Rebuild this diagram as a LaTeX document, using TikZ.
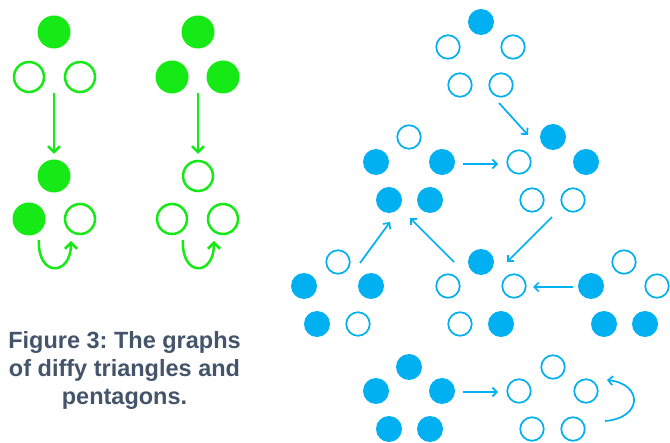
\documentclass[tikz,border=0pt]{standalone}
\usepackage{fontspec}
\setmainfont{Liberation Sans}
\usetikzlibrary{arrows.meta}
\definecolor{gr}{RGB}{22,234,22}
\definecolor{bl}{RGB}{0,176,240}
\definecolor{txt}{RGB}{68,84,106}
\frenchspacing
\begin{document}
\begin{tikzpicture}[x=1pt,y=-1pt,
  gf/.style={circle,fill=gr,inner sep=0pt,minimum size=33pt},
  go/.style={circle,draw=gr,line width=2.5pt,inner sep=0pt,minimum size=30pt},
  bf/.style={circle,fill=bl,inner sep=0pt,minimum size=26pt},
  bo/.style={circle,draw=bl,line width=1.7pt,inner sep=0pt,minimum size=23.5pt},
  garr/.style={draw=gr,line width=2.5pt,-{Straight Barb[length=6pt,width=12pt]}},
  barr/.style={draw=bl,line width=1.7pt,-{Straight Barb[length=4.5pt,width=9pt]}}]
\useasboundingbox (0,0) rectangle (670,443);
% ---- green triangles
\node[gf] (t1a) at (54,32) {};
\node[go] (t1b) at (29,77) {};
\node[go] (t1c) at (80,77) {};
\node[gf] (t2a) at (54,176) {};
\node[gf] (t2b) at (29,219) {};
\node[go] (t2c) at (80,219) {};
\node[gf] (t3a) at (198,32) {};
\node[gf] (t3b) at (172,77) {};
\node[gf] (t3c) at (223,77) {};
\node[go] (t4a) at (198,176) {};
\node[go] (t4b) at (172,219) {};
\node[go] (t4c) at (223,219) {};
\coordinate (g1s) at (54,93); \coordinate (g1e) at (54,154);
\coordinate (g2s) at (198,93); \coordinate (g2e) at (198,154);
\coordinate (g3s) at (39,240); \coordinate (g3e) at (71,241);
\coordinate (g4s) at (183,240); \coordinate (g4e) at (214,241);
\draw[garr] (g1s) -- (g1e);
\draw[garr] (g2s) -- (g2e);
\draw[garr] (g3s) .. controls (37,277) and (71,277) .. (g3e);
\draw[garr] (g4s) .. controls (181,277) and (214,277) .. (g4e);
% ---- blue pentagons
% A
\node[bf] (a1) at (481,22) {};
\node[bo] (a2) at (448,47) {};
\node[bo] (a3) at (513,47) {};
\node[bo] (a4) at (460,85) {};
\node[bo] (a5) at (501,85) {};
% B
\node[bo] (b1) at (409,137) {};
\node[bf] (b2) at (376,162) {};
\node[bf] (b3) at (442,162) {};
\node[bf] (b4) at (389,200) {};
\node[bf] (b5) at (430,200) {};
% C
\node[bf] (c1) at (553,137) {};
\node[bo] (c2) at (519,162) {};
\node[bf] (c3) at (586,162) {};
\node[bo] (c4) at (532,200) {};
\node[bo] (c5) at (573,200) {};
% E
\node[bo] (e1) at (338,262) {};
\node[bf] (e2) at (304,286) {};
\node[bf] (e3) at (371,286) {};
\node[bf] (e4) at (317,324) {};
\node[bo] (e5) at (358,324) {};
% D
\node[bf] (d1) at (481,262) {};
\node[bo] (d2) at (448,286) {};
\node[bo] (d3) at (514,286) {};
\node[bo] (d4) at (460,324) {};
\node[bf] (d5) at (501,324) {};
% F
\node[bo] (f1) at (624,262) {};
\node[bf] (f2) at (591,286) {};
\node[bo] (f3) at (657,286) {};
\node[bf] (f4) at (604,324) {};
\node[bf] (f5) at (645,324) {};
% G
\node[bf] (g1) at (409,367) {};
\node[bf] (g2) at (376,391) {};
\node[bf] (g3) at (442,391) {};
\node[bf] (g4) at (389,429) {};
\node[bf] (g5) at (430,429) {};
% H
\node[bo] (h1) at (553,367) {};
\node[bo] (h2) at (519,391) {};
\node[bo] (h3) at (586,391) {};
\node[bo] (h4) at (532,429) {};
\node[bo] (h5) at (573,429) {};
% arrows
\coordinate (ac1) at (499,103); \coordinate (ac2) at (528,135);
\coordinate (bc1) at (463,164); \coordinate (bc2) at (498,164);
\coordinate (cd1) at (552,217); \coordinate (cd2) at (507,262);
\coordinate (eb1) at (360,263); \coordinate (eb2) at (390,222);
\coordinate (db1) at (454,262); \coordinate (db2) at (410,218);
\coordinate (fd1) at (573,287); \coordinate (fd2) at (533,287);
\coordinate (gh1) at (463,392); \coordinate (gh2) at (498,392);
\coordinate (hh1) at (605,421); \coordinate (hh2) at (607,380);
\draw[barr] (ac1) -- (ac2);
\draw[barr] (bc1) -- (bc2);
\draw[barr] (cd1) -- (cd2);
\draw[barr] (eb1) -- (eb2);
\draw[barr] (db1) -- (db2);
\draw[barr] (fd1) -- (fd2);
\draw[barr] (gh1) -- (gh2);
\draw[barr] (hh1) .. controls (643,418) and (643,384) .. (hh2);
% caption
\node[text=txt,font=\bfseries\fontsize{23.5}{28}\selectfont,align=center,inner sep=0pt] (cap) at (124.5,370)
  {Figure 3: The graphs\\of diffy triangles and\\pentagons.};
\end{tikzpicture}
\end{document}
